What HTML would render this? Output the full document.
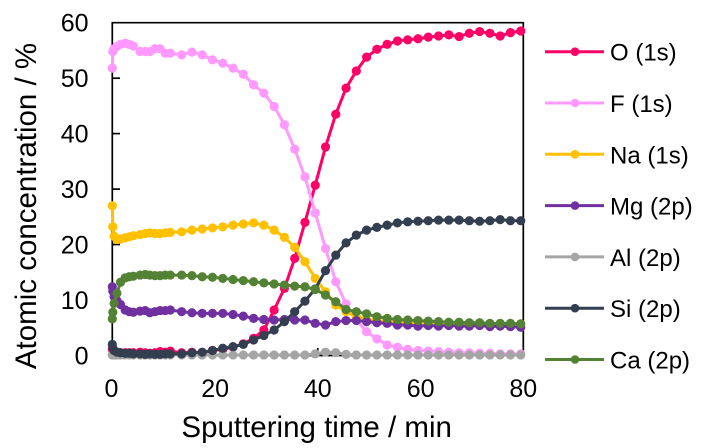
<!DOCTYPE html>
<html><head><meta charset="utf-8"><style>html,body{margin:0;padding:0;background:#fff;}svg{display:block;}</style></head>
<body>
<svg width="709" height="448" viewBox="0 0 709 448" font-family="'Liberation Sans', Arial, sans-serif">
<defs>
<marker id="mO" markerUnits="userSpaceOnUse" markerWidth="2" markerHeight="2" refX="0" refY="0" overflow="visible"><ellipse cx="0" cy="0" rx="0.895" ry="0.83" fill="#FF0066"/></marker>
<marker id="mF" markerUnits="userSpaceOnUse" markerWidth="2" markerHeight="2" refX="0" refY="0" overflow="visible"><ellipse cx="0" cy="0" rx="0.895" ry="0.83" fill="#FF99FF"/></marker>
<marker id="mNa" markerUnits="userSpaceOnUse" markerWidth="2" markerHeight="2" refX="0" refY="0" overflow="visible"><ellipse cx="0" cy="0" rx="0.895" ry="0.83" fill="#FFC000"/></marker>
<marker id="mMg" markerUnits="userSpaceOnUse" markerWidth="2" markerHeight="2" refX="0" refY="0" overflow="visible"><ellipse cx="0" cy="0" rx="0.895" ry="0.83" fill="#7030A0"/></marker>
<marker id="mAl" markerUnits="userSpaceOnUse" markerWidth="2" markerHeight="2" refX="0" refY="0" overflow="visible"><ellipse cx="0" cy="0" rx="0.895" ry="0.83" fill="#A5A5A5"/></marker>
<marker id="mSi" markerUnits="userSpaceOnUse" markerWidth="2" markerHeight="2" refX="0" refY="0" overflow="visible"><ellipse cx="0" cy="0" rx="0.895" ry="0.83" fill="#333F50"/></marker>
<marker id="mCa" markerUnits="userSpaceOnUse" markerWidth="2" markerHeight="2" refX="0" refY="0" overflow="visible"><ellipse cx="0" cy="0" rx="0.895" ry="0.83" fill="#548235"/></marker>
</defs>

<path d="M112.3,355.5V22.7H523.3V355.5" fill="none" stroke="#000" stroke-width="1.7"/>
<line x1="112.3" y1="355.5" x2="523.3" y2="355.5" stroke="#000" stroke-width="1.7"/>
<g stroke="#000" stroke-width="1.7">
<line x1="112.3" y1="78.2" x2="120" y2="78.2"/>
<line x1="112.3" y1="133.6" x2="120" y2="133.6"/>
<line x1="112.3" y1="189.1" x2="120" y2="189.1"/>
<line x1="112.3" y1="244.5" x2="120" y2="244.5"/>
<line x1="112.3" y1="300" x2="120" y2="300"/>
<line x1="215.1" y1="355.5" x2="215.1" y2="348"/>
<line x1="317.8" y1="355.5" x2="317.8" y2="348"/>
<line x1="420.6" y1="355.5" x2="420.6" y2="348"/>
</g>

<g transform="translate(112.3,355.5) scale(5.1375,-5.547)" fill="none" stroke-width="3" stroke-linejoin="round">
<polyline vector-effect="non-scaling-stroke" stroke="#FF0066" marker-start="url(#mO)" marker-mid="url(#mO)" marker-end="url(#mO)" points="0,1.2 0.1,0.9 0.35,0.7 0.9,0.6 1.6,0.5 2.5,0.5 3.3,0.5 4.1,0.5 5.4,0.6 6.4,0.5 7.3,0.4 8.3,0.5 9.3,0.7 10.3,0.6 11.3,0.8 13.5,0.5 15.5,0.6 17.5,0.5 19.5,0.9 21.5,1.1 23.5,1.5 25.5,2.1 27.5,3.1 29.5,4.6 31.5,8.2 33.5,12.1 35.5,17.5 37.5,24 39.5,30.7 41.5,37.6 43.5,43.5 45.5,48.2 47.5,51.3 49.5,53.8 51.5,55.2 53.5,56.1 55.5,56.7 57.5,56.9 59.5,57.1 61.5,57.4 63.5,57.6 65.5,57.8 67.5,57.5 69.5,58.1 71.5,58.4 73.5,58.1 75.5,57.6 77.5,58.2 79.5,58.5"/>
<polyline vector-effect="non-scaling-stroke" stroke="#FF99FF" marker-start="url(#mF)" marker-mid="url(#mF)" marker-end="url(#mF)" points="0,51.8 0.1,54.8 0.35,55.3 0.9,55.7 1.6,56.1 2.5,56.3 3.3,56.1 4.1,55.8 5.4,54.8 6.4,54.8 7.3,54.8 8.3,55.3 9.3,55.3 10.3,54.5 11.3,54.5 13.5,54.2 15.5,54.7 17.5,54.2 19.5,53.3 21.5,52.7 23.5,51.8 25.5,50.7 27.5,48.8 29.5,47.3 31.5,44.9 33.5,41.6 35.5,37.2 37.5,32.2 39.5,25.7 41.5,19.3 43.5,13.3 45.5,9.3 47.5,6.4 49.5,4.3 51.5,3 53.5,1.9 55.5,1.5 57.5,1.1 59.5,0.9 61.5,0.8 63.5,0.7 65.5,0.6 67.5,0.5 69.5,0.5 71.5,0.4 73.5,0.4 75.5,0.3 77.5,0.3 79.5,0.3"/>
<polyline vector-effect="non-scaling-stroke" stroke="#FFC000" marker-start="url(#mNa)" marker-mid="url(#mNa)" marker-end="url(#mNa)" points="0,27 0.1,23.2 0.35,21.5 0.9,20.9 1.6,21 2.5,21.2 3.3,21.4 4.1,21.6 5.4,21.8 6.4,22 7.3,22.1 8.3,22 9.3,22 10.3,22.1 11.3,22.2 13.5,22.3 15.5,22.6 17.5,22.8 19.5,23 21.5,23.2 23.5,23.5 25.5,23.7 27.5,23.9 29.5,23.5 31.5,22.6 33.5,21.3 35.5,19.5 37.5,16.9 39.5,13.9 41.5,11.5 43.5,9.1 45.5,7.9 47.5,7 49.5,6.5 51.5,6.3 53.5,6.1 55.5,6 57.5,6 59.5,5.9 61.5,5.9 63.5,5.9 65.5,5.8 67.5,5.8 69.5,5.8 71.5,5.8 73.5,5.7 75.5,5.7 77.5,5.7 79.5,5.7"/>
<polyline vector-effect="non-scaling-stroke" stroke="#7030A0" marker-start="url(#mMg)" marker-mid="url(#mMg)" marker-end="url(#mMg)" points="0,12.4 0.1,11.6 0.35,10.6 0.9,9.9 1.6,9.2 2.5,8.2 3.3,7.9 4.1,7.8 5.4,8 6.4,8.1 7.3,7.7 8.3,7.9 9.3,8.1 10.3,8.1 11.3,8.2 13.5,7.9 15.5,7.7 17.5,7.6 19.5,7.6 21.5,7.6 23.5,7.4 25.5,7.1 27.5,6.7 29.5,6.5 31.5,6.4 33.5,6.5 35.5,6.4 37.5,6.4 39.5,5.8 41.5,5.5 43.5,6.1 45.5,6.3 47.5,6.3 49.5,6.1 51.5,5.9 53.5,5.8 55.5,5.5 57.5,5.5 59.5,5.3 61.5,5.4 63.5,5.3 65.5,5.4 67.5,5.3 69.5,5.3 71.5,5.4 73.5,5.2 75.5,5.3 77.5,5.2 79.5,5.1"/>
<polyline vector-effect="non-scaling-stroke" stroke="#A5A5A5" marker-start="url(#mAl)" marker-mid="url(#mAl)" marker-end="url(#mAl)" points="0,0.1 0.1,0.1 0.35,0.1 0.9,0.1 1.6,0.1 2.5,0.1 3.3,0.1 4.1,0.1 5.4,0.1 6.4,0.1 7.3,0.1 8.3,0.1 9.3,0.1 10.3,0.1 11.3,0.1 13.5,0.1 15.5,0.1 17.5,0.1 19.5,0.1 21.5,0.1 23.5,0.1 25.5,0.1 27.5,0.1 29.5,0.1 31.5,0.1 33.5,0.1 35.5,0.1 37.5,0.1 39.5,0.3 41.5,0.6 43.5,0.5 45.5,0.2 47.5,0.1 49.5,0.1 51.5,0.1 53.5,0.1 55.5,0.1 57.5,0.1 59.5,0.1 61.5,0.1 63.5,0.1 65.5,0.1 67.5,0.1 69.5,0.1 71.5,0.1 73.5,0.1 75.5,0.1 77.5,0.1 79.5,0.1"/>
<polyline vector-effect="non-scaling-stroke" stroke="#333F50" marker-start="url(#mSi)" marker-mid="url(#mSi)" marker-end="url(#mSi)" points="0,2 0.1,1.3 0.35,0.9 0.9,0.6 1.6,0.5 2.5,0.4 3.3,0.4 4.1,0.3 5.4,0.3 6.4,0.2 7.3,0.3 8.3,0.2 9.3,0.2 10.3,0.3 11.3,0.3 13.5,0.3 15.5,0.5 17.5,0.6 19.5,0.9 21.5,1.3 23.5,1.6 25.5,2 27.5,2.8 29.5,3.6 31.5,4.6 33.5,6.1 35.5,7.9 37.5,9.8 39.5,12 41.5,15.3 43.5,18.1 45.5,20.3 47.5,21.7 49.5,22.6 51.5,23.1 53.5,23.5 55.5,23.9 57.5,24.1 59.5,24.2 61.5,24.3 63.5,24.4 65.5,24.4 67.5,24.4 69.5,24.3 71.5,24.2 73.5,24.3 75.5,24.5 77.5,24.3 79.5,24.3"/>
<polyline vector-effect="non-scaling-stroke" stroke="#548235" marker-start="url(#mCa)" marker-mid="url(#mCa)" marker-end="url(#mCa)" points="0,6.6 0.1,7.8 0.35,9.4 0.9,11.2 1.6,13.2 2.5,14 3.3,14.2 4.1,14.3 5.4,14.5 6.4,14.6 7.3,14.5 8.3,14.4 9.3,14.4 10.3,14.5 11.3,14.5 13.5,14.5 15.5,14.4 17.5,14.2 19.5,14.1 21.5,13.9 23.5,13.7 25.5,13.5 27.5,13.3 29.5,13.1 31.5,12.9 33.5,12.7 35.5,12.5 37.5,12.4 39.5,11.9 41.5,10.9 43.5,9.7 45.5,8.3 47.5,7.9 49.5,7.5 51.5,7 53.5,6.7 55.5,6.5 57.5,6.4 59.5,6.3 61.5,6.2 63.5,6.1 65.5,6 67.5,6 69.5,5.9 71.5,5.9 73.5,5.8 75.5,5.8 77.5,5.8 79.5,5.7"/>
</g>

<g font-size="25" fill="#000" text-anchor="end">
<text x="88.5" y="31.7">60</text>
<text x="88.5" y="87.2">50</text>
<text x="88.5" y="142.6">40</text>
<text x="88.5" y="198.1">30</text>
<text x="88.5" y="253.5">20</text>
<text x="88.5" y="309">10</text>
<text x="88.5" y="364.3">0</text>
</g>
<g font-size="25" fill="#000" text-anchor="middle">
<text x="111.5" y="397">0</text>
<text x="215.1" y="397">20</text>
<text x="317.8" y="397">40</text>
<text x="420.6" y="397">60</text>
<text x="523.3" y="397">80</text>
</g>
<text x="316.7" y="437" font-size="29.5" text-anchor="middle" fill="#000">Sputtering time / min</text>
<text transform="translate(36,206) rotate(-90)" font-size="29.5" text-anchor="middle" fill="#000">Atomic concentration / %</text>

<g stroke-width="3">
<line x1="545" y1="51.7" x2="604" y2="51.7" stroke="#FF0066"/><circle cx="575" cy="51.7" r="4.3" fill="#FF0066" stroke="none"/>
<line x1="545" y1="103" x2="604" y2="103" stroke="#FF99FF"/><circle cx="575" cy="103" r="4.3" fill="#FF99FF" stroke="none"/>
<line x1="545" y1="154.3" x2="604" y2="154.3" stroke="#FFC000"/><circle cx="575" cy="154.3" r="4.3" fill="#FFC000" stroke="none"/>
<line x1="545" y1="205.6" x2="604" y2="205.6" stroke="#7030A0"/><circle cx="575" cy="205.6" r="4.3" fill="#7030A0" stroke="none"/>
<line x1="545" y1="256.9" x2="604" y2="256.9" stroke="#A5A5A5"/><circle cx="575" cy="256.9" r="4.3" fill="#A5A5A5" stroke="none"/>
<line x1="545" y1="308.2" x2="604" y2="308.2" stroke="#333F50"/><circle cx="575" cy="308.2" r="4.3" fill="#333F50" stroke="none"/>
<line x1="545" y1="359.5" x2="604" y2="359.5" stroke="#548235"/><circle cx="575" cy="359.5" r="4.3" fill="#548235" stroke="none"/>
</g>
<g font-size="24" fill="#000">
<text x="610" y="60.7">O (1s)</text>
<text x="610" y="112">F (1s)</text>
<text x="610" y="163.3">Na (1s)</text>
<text x="610" y="214.6">Mg (2p)</text>
<text x="610" y="265.9">Al (2p)</text>
<text x="610" y="317.2">Si (2p)</text>
<text x="610" y="368.5">Ca (2p)</text>
</g>
</svg>
</body></html>
